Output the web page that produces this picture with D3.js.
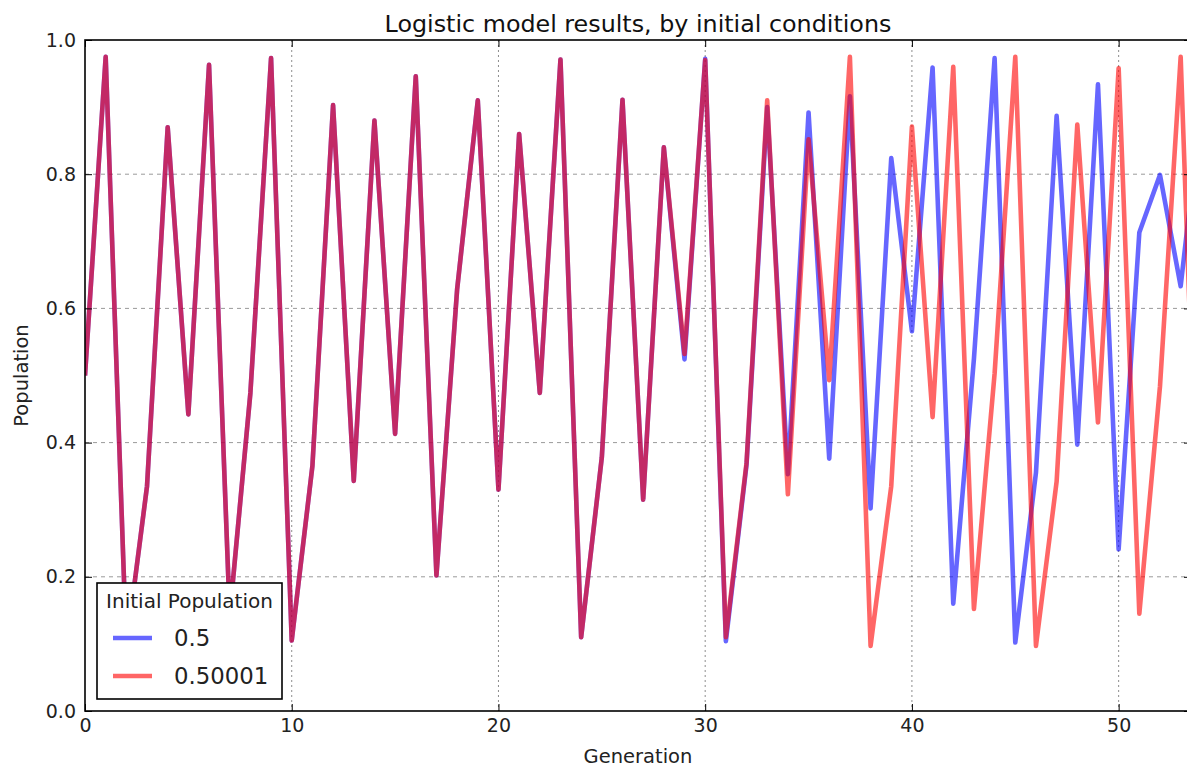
<!DOCTYPE html>
<html>
<head>
<meta charset="utf-8">
<script src="https://cdn.jsdelivr.net/npm/d3@7"></script>
<style>
  body { margin: 0; background: #fff; }
  svg { display: block; font-family: "DejaVu Sans", sans-serif; }
</style>
</head>
<body>
<svg id="chart" width="1187" height="767"></svg>
<script>
// population per generation, initial value 0.5
var popA = [0.5, 0.975, 0.095, 0.335, 0.870, 0.442, 0.963, 0.142, 0.474, 0.973,
  0.105, 0.365, 0.903, 0.343, 0.880, 0.413, 0.946, 0.202, 0.628, 0.910,
  0.330, 0.860, 0.474, 0.971, 0.110, 0.378, 0.911, 0.315, 0.840, 0.524,
  0.972, 0.104, 0.367, 0.900, 0.353, 0.892, 0.376, 0.916, 0.302, 0.824,
  0.566, 0.959, 0.160, 0.525, 0.973, 0.102, 0.355, 0.887, 0.397, 0.934,
  0.241, 0.713, 0.799, 0.633, 0.905];
// population per generation, initial value 0.50001
var popB = [0.50001, 0.975, 0.095, 0.335, 0.870, 0.442, 0.963, 0.142, 0.474, 0.973,
  0.105, 0.365, 0.903, 0.343, 0.880, 0.413, 0.946, 0.202, 0.628, 0.910,
  0.330, 0.860, 0.474, 0.971, 0.110, 0.378, 0.911, 0.315, 0.840, 0.532,
  0.970, 0.110, 0.370, 0.910, 0.323, 0.852, 0.493, 0.975, 0.097, 0.335,
  0.871, 0.438, 0.960, 0.152, 0.503, 0.975, 0.097, 0.342, 0.874, 0.430,
  0.958, 0.145, 0.484, 0.975, 0.095];
var seriesNames = ["0.5", "0.50001"];
var xTicks = [0, 10, 20, 30, 40, 50];
var yTicks = [0, 0.2, 0.4, 0.6, 0.8, 1.0];

var svg = d3.select("#chart");
var pl = 85, pr = 1191, pt = 40, pb = 711;

var x = d3.scaleLinear().domain([0, 53.5]).range([pl, pr]);
var y = d3.scaleLinear().domain([0, 1]).range([pb, pt]);

svg.append("defs").append("clipPath").attr("id", "plotclip")
  .append("rect")
  .attr("x", pl).attr("y", pt)
  .attr("width", pr - pl).attr("height", pb - pt);

// grid
var grid = svg.append("g").attr("class", "grid");
grid.selectAll(".gx").data(xTicks.slice(1)).enter().append("line")
  .attr("x1", function (d) { return x(d); }).attr("x2", function (d) { return x(d); })
  .attr("y1", pt).attr("y2", pb)
  .attr("stroke", "#000").attr("stroke-opacity", 0.45)
  .attr("stroke-width", 1).attr("stroke-dasharray", "2,3");
grid.selectAll(".gy").data(yTicks.slice(1, -1)).enter().append("line")
  .attr("x1", pl).attr("x2", pr)
  .attr("y1", function (d) { return y(d); }).attr("y2", function (d) { return y(d); })
  .attr("stroke", "#000").attr("stroke-opacity", 0.4)
  .attr("stroke-width", 1).attr("stroke-dasharray", "4,4");

// series
var line = d3.line()
  .x(function (d, i) { return x(i); })
  .y(function (d) { return y(d); });

var plot = svg.append("g").attr("clip-path", "url(#plotclip)");
[[popA, "#0000ff"], [popB, "#ff0000"]].forEach(function (s) {
  plot.append("path")
    .datum(s[0])
    .attr("d", line)
    .attr("fill", "none")
    .attr("stroke", s[1])
    .attr("stroke-opacity", 0.6)
    .attr("stroke-width", 4.6)
    .attr("stroke-linejoin", "round");
});

// axes, ticks pointing inward
function styleAxis(g) {
  g.select(".domain").remove();
  g.selectAll(".tick line").attr("stroke", "#000").attr("stroke-width", 1);
  g.selectAll(".tick text").attr("fill", "#222").style("font-size", "19px")
    .style("font-family", "DejaVu Sans");
}

svg.append("g").attr("transform", "translate(0," + pb + ")")
  .call(d3.axisBottom(x).tickValues(xTicks).tickSize(-7).tickPadding(8)
    .tickFormat(d3.format("d")))
  .call(styleAxis);
svg.append("g").attr("transform", "translate(0," + pt + ")")
  .call(d3.axisTop(x).tickValues(xTicks).tickSize(-7).tickFormat(""))
  .call(styleAxis);
svg.append("g").attr("transform", "translate(" + pl + ",0)")
  .call(d3.axisLeft(y).tickValues(yTicks).tickSize(-7).tickPadding(9)
    .tickFormat(d3.format(".1f")))
  .call(styleAxis);
svg.append("g").attr("transform", "translate(" + pr + ",0)")
  .call(d3.axisRight(y).tickValues(yTicks).tickSize(-7).tickFormat(""))
  .call(styleAxis);

// frame
svg.append("rect")
  .attr("x", pl).attr("y", pt)
  .attr("width", pr - pl).attr("height", pb - pt)
  .attr("fill", "none").attr("stroke", "#000").attr("stroke-width", 1.6);

// labels
svg.append("text")
  .attr("x", (pl + pr) / 2).attr("y", 32)
  .attr("text-anchor", "middle")
  .style("font-size", "23.8px").attr("fill", "#111")
  .text("Logistic model results, by initial conditions");

svg.append("text")
  .attr("x", (pl + pr) / 2).attr("y", 763)
  .attr("text-anchor", "middle")
  .style("font-size", "19.5px").attr("fill", "#222")
  .text("Generation");

svg.append("text")
  .attr("transform", "translate(28," + ((pt + pb) / 2) + ") rotate(-90)")
  .attr("text-anchor", "middle")
  .style("font-size", "19.5px").attr("fill", "#222")
  .text("Population");

// legend
var legend = svg.append("g").attr("transform", "translate(97,583)");
legend.append("rect")
  .attr("width", 185).attr("height", 116)
  .attr("fill", "#fff").attr("stroke", "#000").attr("stroke-width", 1.6);
legend.append("text")
  .attr("x", 92.5).attr("y", 25)
  .attr("text-anchor", "middle")
  .style("font-size", "20px").attr("fill", "#222")
  .text("Initial Population");
var legendColors = ["#0000ff", "#ff0000"];
var item = legend.selectAll(".item").data(seriesNames).enter().append("g")
  .attr("class", "item")
  .attr("transform", function (d, i) { return "translate(0," + (55 + i * 38) + ")"; });
item.append("line")
  .attr("x1", 16).attr("x2", 55)
  .attr("stroke", function (d, i) { return legendColors[i]; })
  .attr("stroke-opacity", 0.6).attr("stroke-width", 4.6);
item.append("text")
  .attr("x", 77).attr("y", 8)
  .style("font-size", "22.8px").attr("fill", "#222")
  .text(function (d) { return d; });
</script>
</body>
</html>
